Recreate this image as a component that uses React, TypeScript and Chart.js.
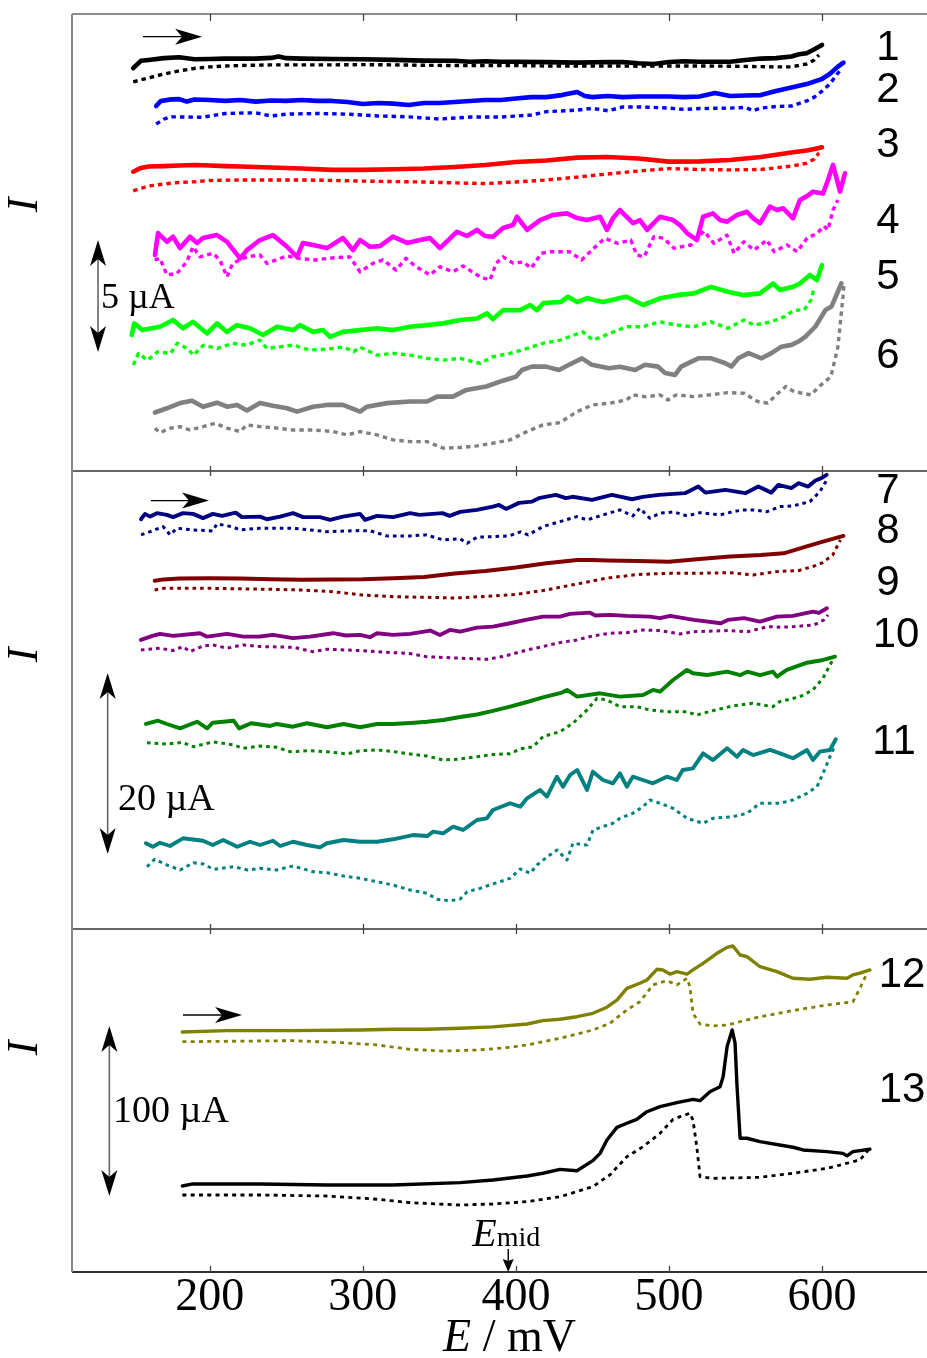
import { useEffect, useRef } from 'react';
import { Chart, registerables } from 'chart.js';

Chart.register(...registerables);

type Pt = [number, number];

const W = 927;
const H = 1358;
const SERIF = '"Liberation Serif", "Times New Roman", serif';
const SANS = '"Liberation Sans", Arial, sans-serif';

// Potential axis (mV)
const eMin = 110;
const eMax = 668.6;
const eTicks = [200, 300, 400, 500, 600];
const eMid = 395;

// Current span shown in each panel (µA) and the panel heights (px)
const panelRanges = [20.4, 50.6, 201.8];
const panelHeights = [457, 458, 343];
const panelAxes = ['y1', 'y2', 'y3'];

// ---- Panel 1: currents (µA, relative to each trace's baseline) vs E (mV) ----
const t1f: Pt[] = [[150,-0.37],[155,-0.04],[160,0],[170,0.08],[180,0.12],[190,0.03],[200,0.04],[210,0.06],[220,0.06],[230,0.06],[240,0.09],[245,0.15],[250,0.08],[260,0.06],[280,0.04],[300,0.03],[320,0],[340,-0.03],[360,-0.04],[370,-0.08],[380,-0.06],[390,-0.08],[400,-0.08],[420,-0.10],[440,-0.12],[460,-0.09],[470,-0.10],[480,-0.15],[490,-0.18],[500,-0.09],[510,-0.06],[520,-0.08],[530,-0.08],[540,-0.08],[550,0],[560,0.06],[570,0.08],[580,0.15],[585,0.25],[590,0.30],[595,0.48],[600,0.67]];
const t1r: Pt[] = [[150,-0.98],[160,-0.80],[170,-0.63],[180,-0.49],[190,-0.38],[200,-0.31],[210,-0.27],[220,-0.25],[240,-0.22],[260,-0.22],[280,-0.22],[300,-0.21],[320,-0.22],[340,-0.24],[360,-0.25],[380,-0.25],[400,-0.25],[420,-0.27],[440,-0.27],[460,-0.27],[480,-0.28],[500,-0.27],[520,-0.27],[540,-0.28],[560,-0.30],[570,-0.31],[580,-0.31],[590,-0.18],[595,0],[598,0.22]];
const t2f: Pt[] = [[165,-0.27],[168,-0.04],[175,0.03],[180,0.04],[185,-0.07],[190,0.02],[200,0],[210,-0.04],[220,0],[230,-0.07],[240,-0.02],[250,-0.04],[260,0],[270,-0.04],[280,-0.04],[290,-0.09],[300,-0.18],[310,-0.13],[320,-0.16],[330,-0.22],[340,-0.13],[350,-0.13],[360,-0.09],[370,-0.04],[380,0],[390,0],[400,0.07],[410,0.13],[420,0.13],[430,0.22],[440,0.36],[445,0.18],[450,0.13],[460,0.18],[470,0.13],[480,0.16],[490,0.16],[500,0.16],[510,0.13],[520,0.16],[530,0.31],[540,0.18],[550,0.20],[560,0.22],[570,0.40],[580,0.56],[590,0.71],[600,0.94],[605,1.16],[610,1.47],[614,1.67]];
const t2r: Pt[] = [[165,-1.07],[170,-0.85],[175,-0.75],[185,-0.76],[195,-0.77],[210,-0.60],[230,-0.57],[240,-0.71],[250,-0.63],[270,-0.60],[290,-0.63],[310,-0.71],[330,-0.75],[350,-0.85],[370,-0.76],[390,-0.76],[410,-0.67],[420,-0.52],[440,-0.45],[450,-0.37],[460,-0.48],[470,-0.31],[480,-0.31],[490,-0.33],[500,-0.36],[510,-0.42],[520,-0.38],[530,-0.37],[540,-0.36],[550,-0.33],[555,-0.48],[560,-0.36],[570,-0.29],[580,-0.27],[590,-0.04],[595,0.13],[600,0.40],[605,0.71],[612,1.34]];
const t3f: Pt[] = [[150,-0.21],[155,-0.04],[160,0.02],[170,0.04],[180,0.07],[190,0.09],[200,0.07],[210,0.04],[220,0.02],[240,-0.02],[260,-0.07],[280,-0.13],[300,-0.13],[320,-0.10],[340,-0.07],[360,0],[380,0.09],[400,0.22],[420,0.29],[440,0.42],[460,0.45],[480,0.38],[500,0.24],[520,0.25],[540,0.31],[560,0.45],[580,0.65],[590,0.74],[595,0.80],[600,0.88]];
const t3r: Pt[] = [[150,-1.06],[160,-0.85],[170,-0.76],[180,-0.69],[190,-0.66],[200,-0.60],[220,-0.58],[240,-0.58],[260,-0.58],[280,-0.60],[300,-0.63],[320,-0.65],[340,-0.67],[360,-0.71],[380,-0.74],[400,-0.67],[420,-0.58],[440,-0.45],[460,-0.31],[480,-0.18],[500,-0.07],[520,-0.11],[540,-0.13],[560,-0.11],[580,0.04],[590,0.17],[595,0.36],[598,0.63]];
const t4f: Pt[] = [[164.2,-0.67],[166.2,0.31],[172.1,-0.08],[176,0.15],[180.6,-0.36],[187.1,0.15],[191.7,-0.13],[195.6,0.09],[204.7,0.22],[211.3,-0.08],[219.8,-0.82],[224.3,-0.45],[232.8,0],[241.3,0.22],[250.5,-0.30],[257,-0.75],[260.9,-0.13],[267.5,-0.22],[276.6,-0.36],[287,0.09],[293.6,-0.45],[298.2,0],[304.7,-0.30],[311.2,-0.27],[319.7,0.15],[328.9,-0.13],[337.4,0],[343.9,0.09],[350.4,-0.36],[361.5,0.37],[368,0.18],[374.6,0.45],[379.8,0.18],[385,0.15],[391.6,0.54],[398.1,0.67],[400.7,1.04],[407.3,0.45],[415.8,0.89],[424.3,1.12],[433.4,1.19],[440,0.98],[446.5,0.89],[455,1.04],[459.5,0.45],[463.5,0.98],[468,1.34],[476.5,0.75],[481.1,0.89],[485.7,0.45],[494.2,1.04],[502.7,0.89],[507.2,0.67],[511.8,0.31],[518.3,0],[522.3,1.04],[528.8,1.19],[533.4,0.89],[538,0.82],[544.5,1.12],[551,1.26],[555,0.98],[559.5,0.75],[566,1.49],[570.6,1.34],[574.5,1.42],[581,0.97],[585.6,1.79],[590.2,1.96],[594.1,2.16],[600.7,2.08],[603.9,2.68],[607.2,3.35],[609.8,2.68],[611.8,2.16],[615,2.98]];
const t4r: Pt[] = [[164,-0.89],[167.5,-0.82],[172,-1.56],[178.6,-1.49],[185,-0.97],[189,-0.30],[193.6,-0.75],[202,-0.59],[206.6,-0.89],[211.3,-1.64],[215,-1.04],[224.3,-0.75],[232.8,-0.67],[237.4,-1.04],[250.5,-0.71],[258.3,-0.82],[268.7,-0.89],[280,-0.80],[291.6,-0.75],[298.2,-1.42],[306.7,-1.04],[313.2,-0.89],[321.7,-1.34],[328.2,-0.82],[334.8,-1.19],[343.9,-1.56],[350.4,-1.19],[358.9,-1.42],[365.5,-1.16],[376.6,-1.64],[383.1,-1.79],[387.1,-1.04],[391.7,-0.75],[398.2,-1.03],[404.8,-0.98],[410,-1.26],[416.6,-0.59],[423.1,-0.52],[435,-0.52],[443,-0.89],[449.6,-0.45],[458,0.08],[466.6,-0.15],[475.1,0],[479,-0.67],[483.7,-0.75],[490.2,0.15],[496.7,0.08],[503.3,-0.37],[514.4,-0.22],[522.9,0.40],[529.4,-0.15],[537.9,0.22],[542.5,-0.59],[549,-0.08],[555.6,-0.45],[564.1,0],[568.7,-0.52],[577.2,-0.22],[583.7,-0.52],[590.2,0.08],[596.8,0.30],[601.3,0.62],[603.9,0.45],[607.2,1.34],[610.4,1.79]];
const t5f: Pt[] = [[149,-0.22],[150.7,0.30],[156,0],[167.5,0.15],[176,0.45],[182.5,0.08],[189,0.37],[198.3,-0.15],[204.7,0.30],[211.3,-0.08],[217.8,0.22],[226.3,0.08],[234.8,-0.22],[244,0.15],[254.4,0],[259,0.22],[267.5,-0.08],[274,0],[278.6,-0.30],[287,-0.08],[298.2,0],[309.3,0.08],[319.7,0],[330.9,0.15],[342,0.22],[352.5,0.30],[363.6,0.45],[374.6,0.52],[381.2,0.75],[385,0.49],[391.6,0.89],[402.8,0.89],[409.3,1.12],[413.8,0.89],[418,1.21],[429.5,1.26],[434,1.49],[440,1.25],[446.5,1.43],[451,1.34],[457,1.25],[468,1.43],[472.4,1.49],[483.1,1.12],[494.2,1.42],[505.3,1.56],[516.3,1.64],[527.4,1.93],[538.5,1.71],[549,1.56],[559.5,1.64],[568,2.08],[572.6,1.79],[581,1.93],[585.6,2.08],[592.1,2.46],[596.7,2.23],[600,2.90]];
const t5r: Pt[] = [[150.1,-1.56],[153.4,-1.04],[159.4,-1.34],[165.9,-0.97],[174.4,-1.04],[178.9,-0.59],[185.4,-0.82],[189.4,-1.12],[195.9,-0.67],[205,-0.82],[215,-0.59],[223.6,-0.67],[232.8,-0.45],[237.4,-0.82],[254.4,-0.67],[265.5,-0.89],[276.6,-0.85],[287.4,-0.75],[293.9,-0.97],[298.2,-0.76],[309.3,-1.12],[319.7,-1.04],[331,-1.12],[342,-1.26],[352.5,-1.34],[363.6,-1.26],[376.7,-1.49],[385,-1.19],[396.2,-1.04],[407.3,-0.82],[417.7,-0.59],[428.8,-0.45],[443.8,-0.08],[450.3,-0.45],[461.4,-0.15],[472.4,0.15],[483,0.15],[494.2,0.37],[505.3,0.22],[516.3,0.15],[527.4,0.37],[538.5,0.08],[549,0.45],[555.6,0.22],[566.7,0.37],[575.2,0.59],[581.7,0.89],[588.3,0.89],[592.8,1.34],[594.8,1.86]];
const t6f: Pt[] = [[164.2,-0.34],[172,-0.15],[180.6,0.08],[188.4,0.19],[195.6,-0.08],[204.7,0.10],[211.3,-0.08],[217.8,0],[224.3,-0.25],[232.8,0.08],[241.3,-0.04],[250.5,-0.15],[257,-0.30],[267.5,-0.08],[276.6,0],[287,0],[298.2,-0.30],[302.7,-0.08],[315.8,0.08],[330.9,0.15],[342,0.15],[348.5,0.37],[358.9,0.37],[367.6,0.67],[380.6,0.82],[391,1.07],[400,1.26],[404,1.56],[410.4,1.71],[419.6,1.71],[428.2,1.56],[434.7,1.79],[443.2,2.08],[449.7,1.79],[460.8,1.64],[468,1.70],[477.9,1.56],[484.4,1.79],[492.9,1.71],[497.5,1.42],[504,1.34],[508,1.71],[514.7,1.93],[519.2,2.08],[527.7,2.08],[536.9,1.86],[540.8,1.71],[545.4,2.08],[552,2.31],[560.5,2.08],[567,2.31],[573.5,2.60],[580.1,2.68],[584.6,2.83],[589.2,3.05],[595.7,3.50],[602.3,4.24],[606.2,4.39],[612.7,5.43]];
const t6r: Pt[] = [[164.2,-1.04],[167.5,-1.24],[174.1,-1.04],[180.6,-0.97],[187.1,-1.12],[195.6,-0.97],[203.5,-0.82],[211.3,-1.04],[219.8,-1.19],[224.3,-0.89],[232.8,-0.97],[243.3,-1.03],[254.4,-1.12],[267.5,-1.12],[280.6,-1.19],[289.8,-1.34],[298.2,-1.19],[309.3,-1.34],[319.7,-1.56],[330.9,-1.64],[342,-1.64],[352.5,-1.93],[363.6,-1.90],[374.6,-1.83],[385,-1.71],[396.2,-1.56],[407.3,-1.19],[417.7,-0.89],[428.8,-0.79],[439.9,-0.30],[450.3,0],[461.4,0.08],[472.4,0.22],[476.4,0.45],[485,0.36],[494.2,0.45],[499.4,0.22],[504.7,0.45],[516.3,0.37],[527,0.45],[538.5,0.55],[549,0.52],[558,0.15],[564.7,0.08],[571.2,0.52],[576.4,0.82],[581.7,0.59],[592.8,0.45],[599.3,0.89],[605.8,1.26],[610.4,2.60],[613.7,4.83],[614.3,5.36]];

// ---- Panel 2 ----
const t7f: Pt[] = [[155.1,-0.48],[157.7,0.11],[161,-0.19],[165.5,0.19],[172,0],[176,-0.25],[182.5,0.19],[189,0.11],[195.6,-0.36],[202,0.11],[208,-0.11],[217,0.25],[221,-0.25],[232.8,-0.19],[237.4,-0.48],[246,-0.19],[254.4,0.19],[261,-0.25],[272,-0.25],[278.6,-0.55],[287,-0.19],[298.2,0.11],[301.5,-0.55],[309.3,-0.11],[319.7,-0.25],[330.9,0.19],[337,0],[352,0.19],[356.7,-0.11],[363.6,0.33],[374.6,0.55],[385,0.92],[389,1.10],[393.6,0.66],[402.1,1.33],[410.6,1.47],[415,1.85],[426.1,2.21],[432.7,1.85],[437,2.0],[449.7,1.66],[462.8,2.21],[475.9,1.73],[483,1.99],[493.5,2.21],[503,2.32],[510.5,2.40],[519.2,3.13],[523.8,2.46],[536.9,2.76],[549.9,2.40],[558.4,3.13],[566.9,2.46],[571.5,3.31],[580,2.95],[584.6,3.50],[591,3.13],[595.7,3.80],[599.6,4.06],[603,4.42]];
const t7r: Pt[] = [[155.1,-2.21],[161,-1.85],[169.5,-1.29],[174.1,-2.21],[178.6,-1.47],[189,-1.66],[202,-1.77],[204.7,-0.99],[215,-1.33],[219.8,-1.66],[232.8,-1.47],[254.4,-1.47],[276.6,-1.85],[298.2,-1.73],[305,-1.77],[315.8,-2.32],[330.9,-2.32],[341.4,-2.21],[352.5,-2.76],[363.6,-2.65],[368.2,-3.13],[374.6,-2.46],[385,-2.40],[395.5,-2.32],[403,-1.88],[408,-2.21],[417.7,-1.29],[428.8,-0.74],[439.9,-0.19],[446.5,-0.55],[457,0],[468,0.55],[476.4,-0.11],[481,0.74],[487.5,-0.36],[494.2,0.19],[503.3,0.33],[511.8,-0.11],[520.3,0.25],[533.4,0],[542,0.36],[548.4,0.55],[555,0.55],[564,0.36],[572.6,0.92],[581,0.99],[592.1,1.47],[598.6,2.57],[603.2,3.87]];
const t8f: Pt[] = [[164,-0.08],[170,0.06],[180,0.17],[200,0.19],[220,0.17],[240,0.08],[260,0.02],[280,0.06],[300,0.08],[320,0.19],[340,0.33],[360,0.72],[380,0.99],[400,1.38],[420,1.85],[440,2.21],[450,2.21],[460,2.15],[480,2.10],[500,2.02],[520,2.32],[540,2.60],[560,2.76],[575,2.95],[590,3.70],[600,4.20],[614,4.86]];
const t8r: Pt[] = [[164,-1.10],[170,-0.92],[200,-0.92],[240,-1.03],[260,-1.10],[280,-1.29],[300,-1.66],[320,-1.85],[340,-1.91],[360,-1.99],[380,-1.82],[400,-1.60],[420,-1.10],[440,-0.44],[460,0.22],[480,0.61],[500,0.74],[520,0.74],[540,0.81],[555,0.55],[570,0.92],[585,1.05],[595,1.55],[600,1.88],[607,2.76],[612,4.42]];
const t9f: Pt[] = [[155,-0.55],[162.6,-0.11],[167.5,0.11],[176,-0.11],[193.6,0.19],[198.3,-0.19],[211.3,0.11],[221.8,-0.19],[232.8,-0.17],[241.3,0],[254.4,-0.36],[265.5,-0.19],[280.6,0.19],[289,-0.06],[298.2,0],[304.7,-0.25],[309.3,0.19],[319.7,0],[330.9,0.11],[344,0.48],[350.4,0],[356.9,0.55],[363.6,0.36],[374.6,0.80],[385,0.92],[396.2,1.29],[407.3,1.69],[417.7,2.02],[428.8,2.02],[435.3,2.32],[448.4,2.46],[452,2.15],[461.4,2.21],[472.4,2.10],[487.5,2.02],[494.2,1.85],[500.7,2.10],[516.3,1.66],[533.9,1.29],[538.5,1.66],[549,1.85],[559.5,1.47],[570.6,2.02],[581,2.10],[594.1,2.57],[598,2.43],[603.2,2.95]];
const t9r: Pt[] = [[155,-1.66],[167.5,-1.47],[176,-1.73],[182.5,-1.29],[187.1,-1.85],[195.6,-1.22],[202,-1.10],[211.3,-1.47],[221.8,-1.10],[232.8,-1.29],[254.4,-1.36],[267.5,-1.85],[276.6,-1.58],[298.2,-1.73],[319.7,-1.96],[330,-2.04],[341.4,-2.40],[363.6,-2.57],[381.2,-2.69],[391.7,-2.38],[407.3,-1.66],[417.7,-1.29],[428.8,-0.85],[439.9,-0.55],[450.3,-0.11],[461.4,0.19],[472.4,0.25],[483,0.55],[494.2,0.48],[507.3,0.11],[516.3,0.36],[538.5,0.48],[551.6,0.36],[564.7,0.92],[573.2,0.85],[581.7,0.92],[594.8,1.10],[601.3,1.66],[603.9,2.21]];
const t10f: Pt[] = [[158.3,0],[166.2,0.36],[172,0],[180.6,-0.48],[191.7,0.25],[198.3,-0.48],[202,0.14],[215.6,0.36],[219.2,-0.48],[227,0.08],[239.5,-0.22],[243.7,0],[254.4,-0.30],[263.5,0.08],[276.6,-0.36],[287.4,0],[298.2,-0.36],[309.3,0],[319.7,0],[333.5,0.14],[342,0.25],[352.5,0.44],[363.6,0.77],[374.6,1.05],[385,1.44],[396.2,1.93],[407.3,2.43],[417.7,2.93],[429.5,3.43],[433.4,3.76],[440,3.02],[455,3.39],[468,3.02],[483,3.20],[489.6,3.76],[494.2,3.57],[502.7,4.86],[511.8,5.97],[515.7,5.60],[525,5.41],[538,5.78],[546.7,5.41],[551.2,5.78],[559.5,5.41],[568,5.78],[570.6,5.23],[577,5.97],[590.2,6.77],[600.7,7.07],[608.5,7.44]];
const t10r: Pt[] = [[159,-2.07],[172,-2.21],[182,-2.04],[189.4,-2.51],[202.4,-1.97],[215.6,-2.32],[222,-2.69],[232.8,-2.43],[243.7,-2.57],[252.3,-3.06],[265.5,-2.95],[276.6,-3.06],[289.8,-3.31],[298.2,-2.95],[309.3,-2.87],[319.7,-3.04],[330.9,-3.31],[342,-3.54],[352.5,-3.98],[363.6,-3.87],[374.6,-3.61],[385,-3.37],[396.2,-3.28],[402.8,-2.76],[411.3,-2.51],[417.7,-1.40],[428.8,-0.85],[437.3,0.08],[446.5,1.55],[453,2.84],[459.5,2.65],[468,1.91],[479,1.91],[487.5,1.55],[498.6,1.36],[511.6,1.36],[518.2,0.99],[528.6,1.47],[541.7,1.99],[554.7,2.29],[567.8,1.91],[572.3,2.46],[585.6,3.02],[594,3.76],[600.7,5.08],[607,7.07]];
const t11f: Pt[] = [[158.3,-0.03],[162.8,-0.41],[167.5,0.03],[174,-0.33],[182.5,0.52],[195.6,0.25],[202,-0.22],[208.8,0.33],[218,-0.41],[226.3,0.14],[232.8,-0.22],[241.3,0.25],[246,-0.33],[254.4,0.14],[263.5,-0.22],[272,-0.48],[276.6,-0.03],[287.4,0.33],[298.2,0.14],[309.3,0.14],[319.7,0.41],[332.8,0.88],[342,0.77],[346,1.25],[352.5,1.07],[359,1.80],[365.5,1.44],[374.6,2.54],[381,2.73],[385,3.65],[396.2,4.39],[402.8,4.01],[407.3,4.94],[415.8,5.86],[420.3,5.12],[426.8,7.33],[430.8,6.22],[435.4,7.51],[440,8.07],[446.5,5.86],[450.3,7.88],[456.9,6.96],[463.4,6.60],[468,7.70],[472.5,6.22],[476.4,7.33],[483,6.96],[489.5,6.60],[498.6,7.33],[505.2,6.96],[509,8.07],[515.7,8.25],[522.3,9.91],[528.8,9.17],[538,10.46],[544.5,9.54],[548.4,10.28],[555,9.72],[566,10.28],[572.6,9.91],[581,9.36],[590.2,10.28],[594.1,9.17],[598.6,10.09],[605.2,10.28],[609,11.46]];
const t11r: Pt[] = [[159,-2.62],[164,-1.80],[172,-2.43],[180.6,-2.98],[189.4,-2.18],[196,-2.32],[202.4,-2.91],[215.6,-2.62],[224.7,-2.98],[232.8,-2.80],[243.7,-2.98],[254.4,-2.54],[267.5,-3.17],[276.6,-3.28],[287.4,-3.65],[298.2,-3.90],[309.3,-4.28],[319.7,-4.64],[330.9,-5.19],[342,-5.56],[348.5,-6.22],[356.9,-6.38],[363.6,-6.19],[368.2,-5.38],[376.6,-5.01],[385,-4.53],[396.2,-3.90],[402.8,-2.87],[409.3,-3.35],[413.8,-2.43],[420,-1.60],[426.9,-0.77],[433.4,-1.88],[437.3,-0.03],[446.5,-0.22],[450.4,1.44],[463.4,2.18],[468,2.73],[476.4,3.28],[483,4.01],[487.5,4.75],[494.2,4.39],[502.7,3.83],[511.8,2.73],[522.3,2.18],[528.8,2.73],[541.8,2.91],[551,3.28],[559.5,4.39],[572.6,4.39],[581,4.75],[590.2,5.49],[596.7,6.22],[600.7,7.70],[605.2,9.54],[608.5,10.83]];

// ---- Panel 3 ----
const t12f: Pt[] = [[182.1,-1.2],[211,-0.4],[254,-0.4],[298,0],[320,0.4],[342,0.4],[363.6,1.0],[385,1.8],[407.3,3.5],[417.7,5.5],[428.8,6.3],[439.9,7.8],[450.3,9.8],[459.5,13.4],[466,17.6],[472.5,24.5],[481,27.5],[485.6,29.4],[492.1,35.7],[496,35.3],[500.7,32.9],[505.2,34.3],[511.8,32.9],[515.7,35.3],[522.3,39.2],[531.4,45.1],[538,48.6],[541.8,49.4],[546.5,44.1],[551,43.1],[559.5,37.2],[570.6,34.3],[581,30.4],[592.1,29.8],[603.2,31.0],[616.3,30.4],[620.2,32.4],[624.8,33.4],[631.3,35.3]];
const t12r: Pt[] = [[182.1,-6.9],[254,-6.3],[287,-7.5],[309.3,-8.8],[330.9,-11.4],[352.5,-12.4],[374.6,-11.8],[385,-11.1],[396.2,-10.2],[407.3,-8.8],[428.8,-4.9],[450.3,0],[461.4,3.9],[472.5,11.8],[481,16.6],[489.6,26.5],[498.6,29.0],[505.2,26.5],[511.8,30.4],[513.7,25.5],[515.7,9.8],[520.3,3.5],[528.8,2.4],[538,2.9],[559.5,7.8],[581,11.4],[603.2,14.7],[620.2,16.6],[624.8,24.5],[629.4,33.4]];
const t13f: Pt[] = [[182.1,-0.6],[189,0.6],[232.8,0.6],[276.6,0],[319.7,0],[363.6,1.4],[385,2.9],[407.3,5.3],[417.7,6.9],[428.8,9.2],[439.9,8.4],[450.3,14.3],[455,18.6],[459.5,26.5],[466,33.9],[472.5,36.3],[479,38.6],[485.6,43.1],[494.2,46.1],[505.2,48.4],[515.7,50.4],[520.3,49.6],[526.8,54.9],[533.4,57.8],[535.4,63.7],[538,81.4],[541.3,91.2],[543.2,83.4],[544.5,57.8],[546.5,27.5],[551,27.5],[559.5,25.5],[581,22.2],[587.6,20.6],[603.2,19.6],[613.7,18.6],[616.3,17.1],[620.2,19.6],[631.3,21.0]];
const t13r: Pt[] = [[182.1,-5.9],[232.8,-5.9],[276.6,-6.5],[309.3,-8.4],[330.9,-10.4],[363.6,-11.8],[385,-11.2],[407.3,-9.8],[428.8,-6.9],[450.3,-1.0],[461.4,5.9],[472.5,16.6],[483,22.5],[494.2,30.4],[502.7,38.6],[507.3,40.2],[513.7,42.2],[515.7,38.2],[518.2,22.5],[520.3,4.9],[528.8,3.9],[559.5,4.5],[581,6.9],[603.2,9.8],[624.8,14.7],[631.3,21.6]];

const forwardScans = [t1f, t2f, t3f, t4f, t5f, t6f, t7f, t8f, t9f, t10f, t11f, t12f, t13f];
const reverseScans = [t1r, t2r, t3r, t4r, t5r, t6r, t7r, t8r, t9r, t10r, t11r, t12r, t13r];
const traceNames = ['1', '2', '3', '4', '5', '6', '7', '8', '9', '10', '11', '12', '13'];
const traceColors = ['#000000', '#0000ff', '#ff0000', '#ff00ff', '#00ff00', '#808080', '#000080', '#800000', '#800080', '#008000', '#008080', '#808000', '#000000'];
const tracePanels = [0, 0, 0, 0, 0, 0, 1, 1, 1, 1, 1, 2, 2];
// vertical stacking of the traces inside their panel (µA)
const traceOffsets = [18.35, 16.56, 13.57, 10.31, 6.29, 2.95, 45.75, 38.56, 32.49, 22.65, 9.5, 142.4, 51.2];
// where the trace numbers sit: [E, I]
const labelAt: Pt[] = [[643.1,18.88],[643.1,16.97],[643.1,14.55],[643.1,11.16],[643.1,8.66],[643.1,5.13],[643.1,48.29],[643.1,43.87],[643.1,38.23],[648.4,32.38],[647,20.66],[652.3,174.7],[652.3,107.1]];

const solidWidth = [4.6, 3.9, 3.4];
const dashWidth = [3.4, 3, 2.8];
const dashPattern = [[4.5, 4], [3.6, 4], [4, 4.3]];

// scale bars: E, I at the lower tip, span (µA), label anchor
const scaleBars = [
  { panel: 0, e: 127, from: 5.31, span: 5, text: '5 µA', te: 128.9, ti: 7.72, size: 36 },
  { panel: 1, e: 133.3, from: 8.29, span: 20, text: '20 µA', te: 140, ti: 14.25, size: 38 },
  { panel: 2, e: 134.4, from: 44.7, span: 100, text: '100 µA', te: 136.8, ti: 94.1, size: 38 },
];
// scan direction arrows: E start, E tip, I
const sweepArrows = [
  { panel: 0, e0: 156.4, e1: 195, i: 19.39 },
  { panel: 1, e0: 161.6, e1: 199.5, i: 47.33 },
  { panel: 2, e0: 182.5, e1: 221.1, i: 151.2 },
];
const yTitleAt = [11.88, 30.28, 131.8];

function head(ctx: CanvasRenderingContext2D, tx: number, ty: number, dx: number, dy: number, len: number, hw: number, notch: number) {
  const bx = tx - dx * len;
  const by = ty - dy * len;
  const px = -dy;
  const py = dx;
  ctx.beginPath();
  ctx.moveTo(tx, ty);
  ctx.lineTo(bx + px * hw, by + py * hw);
  ctx.lineTo(tx - dx * (len - notch), ty - dy * (len - notch));
  ctx.lineTo(bx - px * hw, by - py * hw);
  ctx.closePath();
  ctx.fill();
}

const framePlugin = {
  id: 'frame',
  beforeDatasetsDraw(chart: any) {
    const { ctx, chartArea, scales } = chart;
    const xs = scales.x;
    const ys = panelAxes.map((id) => scales[id]);
    const rules = [ys[0].top, ys[0].bottom, ys[1].bottom, ys[2].bottom];
    ctx.save();
    ctx.lineCap = 'butt';
    rules.forEach((y: number, k: number) => {
      ctx.strokeStyle = k === 0 ? '#666' : '#333';
      ctx.lineWidth = k === 3 ? 2 : 1.5;
      ctx.beginPath();
      ctx.moveTo(chartArea.left, y);
      ctx.lineTo(chartArea.right, y);
      ctx.stroke();
    });
    ctx.strokeStyle = '#888';
    ctx.lineWidth = 2;
    ctx.beginPath();
    ctx.moveTo(chartArea.left, chartArea.top);
    ctx.lineTo(chartArea.left, chartArea.bottom);
    ctx.stroke();
    ctx.strokeStyle = '#444';
    ctx.lineWidth = 1.3;
    for (const v of eTicks) {
      const px = Math.round(xs.getPixelForValue(v)) + 0.5;
      ctx.beginPath();
      ctx.moveTo(px, rules[0]);
      ctx.lineTo(px, rules[0] + 7);
      for (const r of [rules[1], rules[2]]) {
        ctx.moveTo(px, r - 5);
        ctx.lineTo(px, r + 5);
      }
      ctx.moveTo(px, rules[3]);
      ctx.lineTo(px, rules[3] - 6);
      ctx.stroke();
    }
    ctx.restore();
  },
};

const notesPlugin = {
  id: 'notes',
  afterDatasetsDraw(chart: any) {
    const { ctx, chartArea, scales } = chart;
    const xs = scales.x;
    const ys = panelAxes.map((id) => scales[id]);
    ctx.save();
    ctx.fillStyle = '#000';

    // y titles
    ctx.font = `italic 44px ${SERIF}`;
    ctx.textAlign = 'center';
    ctx.textBaseline = 'middle';
    yTitleAt.forEach((v, p) => {
      ctx.save();
      ctx.translate(chartArea.left - 47, ys[p].getPixelForValue(v));
      ctx.rotate(-Math.PI / 2);
      ctx.fillText('I', 0, 0);
      ctx.restore();
    });

    // trace numbers
    ctx.font = `42px ${SANS}`;
    traceNames.forEach((name, k) => {
      const [e, i] = labelAt[k];
      ctx.fillText(name, xs.getPixelForValue(e), ys[tracePanels[k]].getPixelForValue(i));
    });

    // scale bars
    scaleBars.forEach((b) => {
      const x = xs.getPixelForValue(b.e);
      const yLo = ys[b.panel].getPixelForValue(b.from);
      const yHi = ys[b.panel].getPixelForValue(b.from + b.span);
      ctx.strokeStyle = '#666';
      ctx.lineWidth = 1.6;
      ctx.beginPath();
      ctx.moveTo(x, yHi + 12);
      ctx.lineTo(x, yLo - 12);
      ctx.stroke();
      head(ctx, x, yHi, 0, -1, 26, 8, 7);
      head(ctx, x, yLo, 0, 1, 26, 8, 7);
      ctx.font = `${b.size}px ${SERIF}`;
      ctx.textAlign = 'left';
      ctx.fillText(b.text, xs.getPixelForValue(b.te), ys[b.panel].getPixelForValue(b.ti));
    });

    // scan direction
    sweepArrows.forEach((a) => {
      const x0 = xs.getPixelForValue(a.e0);
      const x1 = xs.getPixelForValue(a.e1);
      const y = ys[a.panel].getPixelForValue(a.i);
      ctx.strokeStyle = '#000';
      ctx.lineWidth = 1.4;
      ctx.beginPath();
      ctx.moveTo(x0, y);
      ctx.lineTo(x1 - 20, y);
      ctx.stroke();
      head(ctx, x1, y, 1, 0, 27, 8, 7);
    });

    // E_mid marker
    const xm = xs.getPixelForValue(eMid);
    const yAxis = ys[2].bottom;
    ctx.strokeStyle = '#000';
    ctx.lineWidth = 1.4;
    ctx.beginPath();
    ctx.moveTo(xm, yAxis - 23);
    ctx.lineTo(xm, yAxis - 10);
    ctx.stroke();
    head(ctx, xm, yAxis, 0, 1, 13, 5.5, 2);
    ctx.textAlign = 'left';
    ctx.textBaseline = 'alphabetic';
    ctx.font = `italic 40px ${SERIF}`;
    const eW = ctx.measureText('E').width;
    ctx.fillText('E', xm - 36, yAxis - 26);
    ctx.font = `28px ${SERIF}`;
    ctx.fillText('mid', xm - 36 + eW, yAxis - 26);

    // potential axis title
    ctx.font = `italic 46px ${SERIF}`;
    const w1 = ctx.measureText('E').width;
    ctx.font = `46px ${SERIF}`;
    const rest = ' / mV';
    const w2 = ctx.measureText(rest).width;
    const cx = (chartArea.left + chartArea.right) / 2 + 10;
    const left = cx - (w1 + w2) / 2;
    ctx.font = `italic 46px ${SERIF}`;
    ctx.fillText('E', left, H - 7);
    ctx.font = `46px ${SERIF}`;
    ctx.fillText(rest, left + w1, H - 7);

    ctx.restore();
  },
};

export default function App() {
  const ref = useRef<HTMLCanvasElement>(null);

  useEffect(() => {
    const canvas = ref.current;
    if (!canvas) return;
    const datasets: any[] = [];
    traceNames.forEach((name, k) => {
      const p = tracePanels[k];
      const off = traceOffsets[k];
      datasets.push({
        label: `${name} reverse`,
        data: reverseScans[k].map(([e, i]) => ({ x: e, y: i + off })),
        yAxisID: panelAxes[p],
        borderColor: traceColors[k],
        borderWidth: dashWidth[p],
        borderDash: dashPattern[p],
        borderCapStyle: 'butt',
        borderJoinStyle: 'round',
        pointRadius: 0,
        fill: false,
        tension: 0,
      });
      datasets.push({
        label: `${name} forward`,
        data: forwardScans[k].map(([e, i]) => ({ x: e, y: i + off })),
        yAxisID: panelAxes[p],
        borderColor: traceColors[k],
        borderWidth: solidWidth[p],
        borderCapStyle: 'round',
        borderJoinStyle: 'round',
        pointRadius: 0,
        fill: false,
        tension: 0,
      });
    });

    const yScale = (p: number) => ({
      type: 'linear',
      min: 0,
      max: panelRanges[p],
      display: false,
      stack: 'panels',
      stackWeight: panelHeights[p],
      weight: 3 - p,
      position: 'left',
    });

    const chart = new Chart(canvas, {
      type: 'line',
      data: { datasets },
      options: {
        responsive: false,
        maintainAspectRatio: false,
        animation: false,
        events: [],
        layout: { padding: { left: 72, top: 14, right: 0, bottom: 0 } },
        plugins: { legend: { display: false }, tooltip: { enabled: false } },
        scales: {
          x: {
            type: 'linear',
            position: 'bottom',
            min: eMin,
            max: eMax,
            afterBuildTicks: (s: any) => {
              s.ticks = eTicks.map((v) => ({ value: v }));
            },
            afterFit: (s: any) => {
              s.height = 86;
            },
            grid: { display: false, drawTicks: false },
            border: { display: false },
            ticks: {
              color: '#000',
              padding: 1,
              maxRotation: 0,
              autoSkip: false,
              font: { family: '"Liberation Serif"', size: 46, lineHeight: 1.1 },
            },
          },
          y1: yScale(0),
          y2: yScale(1),
          y3: yScale(2),
        } as any,
      },
      plugins: [framePlugin, notesPlugin],
    });
    return () => chart.destroy();
  }, []);

  return (
    <div style={{ position: 'absolute', left: 0, top: 0, width: W, height: H, background: '#fff' }}>
      <canvas ref={ref} width={W} height={H} style={{ display: 'block', width: W, height: H }} />
    </div>
  );
}
